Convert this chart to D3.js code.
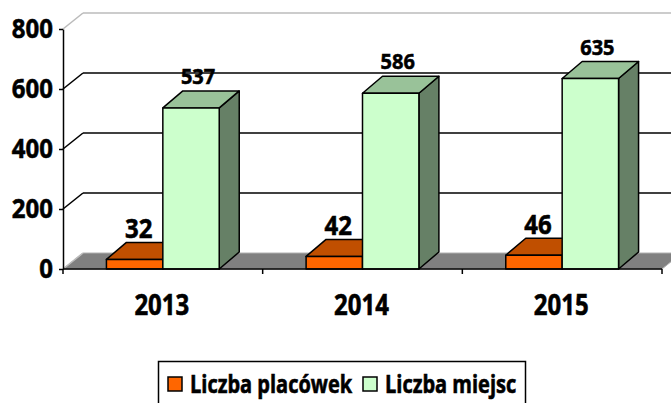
<!DOCTYPE HTML>
<html>
  <head>
    <meta charset="utf-8">
    <title>Liczba placówek i miejsc</title>
    <style>
      body { margin: 0; background: #fff; }
      text { font-family: 'Open Sans', sans-serif; font-weight: bold; fill: #000; stroke: #000; stroke-width: 0.5px; }
    </style>
  </head>
  <body>
    <script src="https://cdn.jsdelivr.net/npm/d3@7"></script>
    <script>
      var years = ['2013', '2014', '2015'];
      var placowki = [32, 42, 46];
      var miejsca = [537, 586, 635];
      var seriesNames = ['Liczba placówek', 'Liczba miejsc'];
      var yTicks = [0, 200, 400, 600, 800];

      var width = 671,
        height = 403;

      // oblique offsets for the fake 3d
      var wdx = 20, wdy = -16,   // walls / floor
        bdx = 20, bdy = -17;     // bars

      var colors = {
        front: ['#ff6600', '#ccffcc'],
        top:   ['#c04f00', '#99c299'],
        side:  ['#a04000', '#668066']
      };

      var svg = d3.select('body').append('svg')
          .attr('width', width)
          .attr('height', height);

      var x = d3.scaleBand()
          .domain(years)
          .range([63, 662]);

      var xs = d3.scaleBand()
          .domain(d3.range(seriesNames.length))
          .range([0, x.bandwidth()])
          .paddingInner(0)
          .paddingOuter(0.77);

      var y = d3.scaleLinear()
          .domain([0, 800])
          .range([269, 29]);

      var x0 = x.range()[0], x1 = x.range()[1];

      function label(g, px, py, txt, size, sy, anchor) {
        return g.append('text')
            .attr('transform', 'translate(' + px + ',' + py + ') scale(1,' + sy + ')')
            .attr('text-anchor', anchor || 'middle')
            .style('font-size', size + 'px')
            .text(txt);
      }

      function pts(a) { return a.map(function(p) { return p.join(','); }).join(' '); }

      // floor
      svg.append('polygon')
          .attr('points', pts([[x0, y(0)], [x1, y(0)], [x1 + wdx, y(0) + wdy], [x0 + wdx, y(0) + wdy]]))
          .attr('fill', '#808080')
          .attr('stroke', '#b0b0b0')
          .attr('stroke-width', 1);

      // back wall gridlines + side wall diagonals
      var grid = svg.append('g');
      grid.selectAll('line.back')
          .data(yTicks.filter(function(d) { return d > 0; }))
        .enter().append('line')
          .attr('x1', x0 + wdx)
          .attr('x2', width + 20)
          .attr('y1', function(d) { return y(d) + wdy; })
          .attr('y2', function(d) { return y(d) + wdy; })
          .attr('stroke', function(d) { return d === 800 ? '#bbb' : '#000'; })
          .attr('stroke-width', function(d) { return d === 800 ? 1.5 : 1.6; });

      grid.selectAll('line.side')
          .data(yTicks)
        .enter().append('line')
          .attr('x1', x0)
          .attr('x2', x0 + wdx)
          .attr('y1', function(d) { return y(d); })
          .attr('y2', function(d) { return y(d) + wdy; })
          .attr('stroke', function(d) { return (d === 800 || d === 0) ? '#bbb' : '#000'; })
          .attr('stroke-width', 1.6);

      // bars
      var values = [placowki, miejsca];
      years.forEach(function(yr, i) {
        values.forEach(function(vals, s) {
          var v = vals[i];
          var l = x(yr) + xs(s), r = l + xs.bandwidth();
          var t = y(v), b = y(0);
          var g = svg.append('g')
              .attr('stroke', '#000')
              .attr('stroke-width', 1.5)
              .attr('stroke-linejoin', 'round');
          g.append('polygon')
              .attr('points', pts([[r, b], [r + bdx, b + bdy], [r + bdx, t + bdy], [r, t]]))
              .attr('fill', colors.side[s]);
          g.append('polygon')
              .attr('points', pts([[l, t], [r, t], [r + bdx, t + bdy], [l + bdx, t + bdy]]))
              .attr('fill', colors.top[s]);
          g.append('rect')
              .attr('x', l)
              .attr('y', t)
              .attr('width', r - l)
              .attr('height', b - t)
              .attr('fill', colors.front[s]);
        });
      });

      // data labels
      years.forEach(function(yr, i) {
        var lo = x(yr) + xs(0) + xs.bandwidth() / 2 + 4;
        label(svg, lo, y(placowki[i]) + bdy - 4, placowki[i], 24, 1.08);
        var lg = x(yr) + xs(1) + xs.bandwidth() / 2 + 7;
        label(svg, lg, y(miejsca[i]) + bdy - 7, miejsca[i], 20, 1.08);
      });

      // y axis
      var yAxis = svg.append('g')
          .attr('transform', 'translate(' + x0 + ',0)')
          .call(d3.axisLeft(y).tickValues(yTicks).tickSize(4).tickSizeOuter(0).tickFormat(''));
      yAxis.selectAll('line, path').attr('stroke', '#000').attr('stroke-width', 1.5);
      yTicks.forEach(function(d) {
        label(svg, 53, y(d) + 9, d, 24, 1.15, 'end');
      });

      // x axis: line with ticks between categories
      var xAxis = svg.append('g');
      xAxis.append('line')
          .attr('x1', x0).attr('x2', x1)
          .attr('y1', y(0)).attr('y2', y(0))
          .attr('stroke', '#000').attr('stroke-width', 1.5);
      xAxis.selectAll('line.tick')
          .data(years.map(function(d) { return x(d); }).concat([x1]))
        .enter().append('line')
          .attr('x1', function(d) { return d; })
          .attr('x2', function(d) { return d; })
          .attr('y1', y(0))
          .attr('y2', y(0) + 5)
          .attr('stroke', '#000').attr('stroke-width', 1.5);
      years.forEach(function(yr) {
        label(svg, x(yr) + x.bandwidth() / 2 - 1, 315, yr, 24, 1.2);
      });

      // legend
      var legend = svg.append('g');
      legend.append('rect')
          .attr('x', 158.5).attr('y', 361.5)
          .attr('width', 367).attr('height', 45)
          .attr('fill', '#fff').attr('stroke', '#000').attr('stroke-width', 1.5);
      var lx = [168, 363];
      seriesNames.forEach(function(name, s) {
        legend.append('rect')
            .attr('x', lx[s]).attr('y', 377)
            .attr('width', 14).attr('height', 14)
            .attr('fill', colors.front[s])
            .attr('stroke', '#000').attr('stroke-width', 1.5);
        label(legend, lx[s] + 22, 393, name, 20, 1.28, 'start');
      });
    </script>
  </body>
</html>
